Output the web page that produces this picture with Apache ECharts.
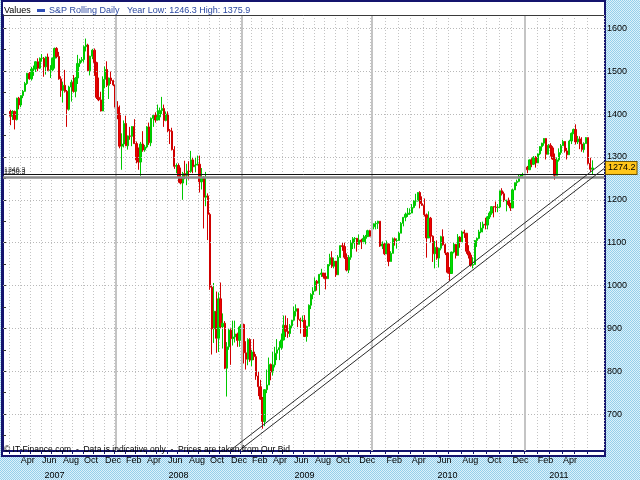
<!DOCTYPE html>
<html><head><meta charset="utf-8">
<script src="https://cdn.jsdelivr.net/npm/echarts@6/dist/echarts.min.js"></script>
<style>html,body{margin:0;padding:0;background:#bde2f2}#c{width:640px;height:480px}</style>
</head><body><div id="c"></div>
<script>
// ---- data ----
const monthNames = ['Jan','Feb','Mar','Apr','May','Jun','Jul','Aug','Sep','Oct','Nov','Dec'];
const firstMonth = [2007, 3];
const lastMonth = [2011, 6];
const lastLabelledMonth = '2011-04';
// number of candles (slots) per month, Mar 2007 .. Jun 2011
const slotCounts = [
  5,5,5,5,5,5,5,5,5,5,
  5,5,5,5,5,5,5,5,5,5,5,5,
  5,5,5,5,5,5,5,5,5,6,5,6,
  7,6,6,6,6,6,6,6,6,6,6,6,
  6,6,6,6,6,3
];
const leadPad = 3, tailPad = 5;
// [open, close, low, high]
const ohlc2007 = [
  [1406,1395,1374,1410],[1395,1406,1386,1409],[1406,1387,1364,1408],[1387,1437,1385,1438],[1437,1421,1411,1440],
  [1421,1443,1416,1444],[1443,1453,1437,1456],[1453,1471,1452,1475],[1471,1495,1468,1496],[1495,1482,1480,1498],
  [1482,1505,1478,1510],[1505,1505,1489,1513],[1505,1522,1498,1523],[1522,1507,1500,1530],[1507,1530,1505,1532],
  [1530,1530,1522,1540],[1530,1510,1487,1533],[1510,1533,1492,1534],[1533,1502,1500,1541],[1502,1503,1484,1514],
  [1503,1530,1500,1532],[1530,1553,1506,1555],[1553,1534,1530,1556],[1534,1482,1480,1545],[1482,1455,1440,1488],
  [1455,1467,1427,1475],[1467,1453,1450,1503],[1453,1411,1370,1456],[1411,1463,1408,1466],[1463,1474,1429,1480],
  [1474,1453,1450,1491],[1453,1484,1439,1486],[1484,1518,1470,1538],[1518,1525,1510,1529],[1525,1527,1520,1533],
  [1527,1557,1520,1560],[1557,1561,1546,1576],[1561,1501,1500,1564],[1501,1535,1490,1536],[1535,1549,1528,1552],
  [1549,1520,1489,1553],[1520,1439,1435,1522],[1439,1433,1430,1485],[1433,1407,1406,1452],[1407,1481,1407,1488],
  [1481,1504,1460,1511],[1504,1467,1463,1523],[1467,1484,1435,1485],[1484,1478,1470,1499],[1478,1468,1465,1480]
];
const ohlc2008 = [
  [1468,1416,1405,1471],[1416,1401,1388,1430],[1401,1325,1320,1420],[1325,1330,1270,1355],[1330,1378,1322,1385],
  [1378,1326,1325,1396],[1326,1349,1317,1350],[1349,1348,1340,1370],[1348,1371,1325,1372],[1371,1331,1330,1388],
  [1331,1293,1285,1336],[1293,1288,1270,1322],[1288,1330,1256,1335],[1330,1316,1312,1360],[1316,1323,1312,1328],
  [1323,1370,1320,1372],[1370,1333,1328,1380],[1333,1390,1325,1392],[1390,1397,1370,1399],[1397,1386,1380,1404],
  [1386,1393,1385,1422],[1393,1408,1385,1415],[1408,1413,1400,1440],[1413,1385,1370,1422],[1385,1400,1383,1406],
  [1400,1361,1358,1406],[1361,1360,1330,1365],[1360,1317,1315,1368],[1317,1278,1272,1325],[1278,1280,1262,1285],
  [1280,1252,1240,1285],[1252,1239,1236,1275],[1239,1261,1200,1265],[1261,1257,1248,1291],[1257,1267,1234,1284],
  [1267,1266,1247,1290],[1266,1293,1263,1314],[1293,1277,1262,1300],[1277,1281,1264,1300],[1281,1283,1281,1303],
  [1283,1242,1217,1303],[1242,1252,1224,1274],[1252,1206,1133,1255],[1206,1209,1185,1265],[1209,1166,1106,1215],
  [1166,996,990,1170],[996,899,839,1000],[899,940,866,1006],[940,877,843,986],[877,969,845,984],
  [969,904,900,1007],[904,912,853,935],[912,807,805,917],[807,857,741,868],[857,896,850,899],
  [896,876,815,900],[876,880,860,918],[880,887,867,918],[887,872,857,890],[872,903,857,906]
];
const ohlc2009 = [
  [903,909,900,943],[909,843,818,911],[843,828,804,870],[828,874,814,877],[874,826,822,877],
  [826,845,812,850],[845,834,826,875],[834,789,780,840],[789,764,742,800],[764,735,734,780],
  [735,683,666,740],[683,757,672,758],[757,768,749,804],[768,816,768,832],[816,798,779,818],
  [798,815,790,845],[815,842,809,857],[842,850,826,875],[850,855,826,870],[855,873,850,888],
  [873,907,872,930],[907,893,880,930],[893,888,878,924],[888,906,880,910],[906,919,900,920],
  [919,940,918,951],[940,946,928,956],[946,921,903,946],[921,918,888,925],[918,919,915,930],
  [919,881,880,931],[881,905,869,906],[905,954,905,956],[954,979,945,982],[979,987,968,996],
  [987,1010,987,1019],[1010,1005,988,1013],[1005,1026,978,1027],[1026,1029,1020,1039],[1029,1021,1016,1029],
  [1021,1016,991,1030],[1016,1049,1016,1050],[1049,1065,1045,1074],[1065,1045,1041,1080],[1045,1057,1040,1065],
  [1057,1025,1020,1057],[1025,1066,1025,1071],[1066,1093,1064,1094],[1093,1091,1081,1101],[1091,1066,1062,1100],[1066,1036,1033,1075],
  [1036,1066,1029,1071],[1066,1099,1060,1106],[1099,1109,1085,1113],[1109,1110,1086,1113],[1110,1096,1079,1111],
  [1096,1106,1096,1119],[1106,1102,1085,1109],[1102,1110,1098,1118],[1110,1114,1096,1118],[1114,1128,1114,1130],[1128,1115,1114,1130]
];
const ohlc2010 = [
  [1115,1137,1115,1139],[1137,1144,1131,1145],[1144,1145,1131,1150],[1145,1150,1132,1151],[1150,1092,1090,1150],[1092,1097,1085,1103],[1097,1074,1071,1100],
  [1074,1097,1074,1105],[1097,1056,1045,1098],[1056,1075,1056,1080],[1075,1109,1075,1112],[1109,1105,1093,1112],[1105,1105,1086,1110],
  [1105,1122,1105,1125],[1122,1145,1122,1148],[1145,1159,1138,1160],[1159,1166,1150,1170],[1166,1167,1160,1181],[1167,1169,1165,1180],
  [1169,1182,1169,1190],[1182,1197,1180,1199],[1197,1197,1186,1214],[1197,1217,1196,1218],[1217,1191,1180,1220],[1191,1187,1186,1208],
  [1187,1165,1161,1203],[1165,1111,1065,1168],[1111,1157,1111,1173],[1157,1115,1100,1160],[1115,1074,1055,1117],[1074,1089,1040,1104],
  [1089,1064,1060,1105],[1064,1087,1042,1088],[1087,1114,1082,1116],[1114,1095,1093,1131],[1095,1076,1071,1098],[1076,1031,1028,1078],
  [1031,1028,1011,1043],[1028,1078,1028,1079],[1078,1096,1075,1100],[1096,1070,1063,1097],[1070,1113,1070,1120],[1113,1102,1088,1115],
  [1102,1125,1102,1128],[1125,1122,1111,1130],[1122,1080,1074,1122],[1080,1071,1063,1094],[1071,1047,1044,1077],[1047,1049,1040,1066],
  [1049,1105,1049,1106],[1105,1110,1090,1112],[1110,1125,1108,1130],[1125,1134,1122,1148],[1134,1143,1124,1149],[1143,1141,1131,1158],
  [1141,1160,1131,1162],[1160,1169,1155,1173],[1169,1184,1165,1184],[1184,1183,1159,1185],[1183,1182,1171,1196],[1182,1183,1171,1190],
  [1183,1221,1180,1221],[1221,1214,1210,1227],[1214,1198,1195,1219],[1198,1199,1173,1200],[1199,1189,1185,1205],[1189,1181,1174,1193],
  [1181,1223,1181,1226],[1223,1240,1223,1240],[1240,1243,1232,1247],[1243,1255,1241,1259],[1255,1258,1252,1260],[1258,1258,1254,1263]
];
const ohlc2011 = [
  [1258,1276,1257,1277],[1276,1270,1262,1279],[1270,1293,1270,1294],[1293,1283,1276,1297],[1283,1299,1281,1302],[1299,1286,1275,1302],
  [1286,1307,1286,1308],[1307,1324,1304,1325],[1324,1332,1314,1333],[1332,1343,1326,1344],[1343,1306,1294,1344],[1306,1327,1306,1330],
  [1327,1321,1301,1332],[1321,1295,1293,1325],[1295,1257,1247,1308],[1257,1293,1257,1299],[1293,1310,1289,1320],[1310,1326,1305,1330],
  [1326,1336,1326,1340],[1336,1314,1310,1337],[1314,1305,1294,1321],[1305,1337,1305,1340],[1337,1355,1330,1357],[1355,1364,1353,1366],
  [1364,1335,1329,1376],[1335,1342,1330,1349],[1342,1330,1318,1348],[1330,1317,1312,1346],[1317,1331,1310,1334],[1331,1345,1331,1346],
  [1345,1285,1282,1345],[1285,1271,1265,1298],[1271,1274.2,1258,1292]
];
const lastPrice = 1274.2;
const supportUpper = 1258.5, supportLower = 1252.5;
const yLabelValues = [700,800,900,1000,1100,1200,1300,1400,1500,1600];
const yTickValues = [650,700,750,800,850,900,950,1000,1050,1100,1150,1200,1250,1300,1350,1400,1450,1500,1550,1600];
const yMin = 614, yMax = 1631;
// trend lines: [slot position, price]
const trendUpper = [[107.8, 614], [286, 1289]];
const trendLower = [[112.1, 614], [286, 1272.7]];
const yearLabelSlots = [24, 83, 143, 211, 264];
const headerTitle = 'S&P Rolling Daily';
const headerStats = 'Year Low: 1246.3 High: 1375.9';
const footerText = '\u00A9 IT-Finance.com  -  Data is indicative only  -  Prices are taken from Our Bid';

// ---- build ----
const categories = [];
for (let i = 0; i < leadPad; i++) categories.push('pad-' + i);
{
  let y = firstMonth[0], m = firstMonth[1], k = 0;
  while (y < lastMonth[0] || (y === lastMonth[0] && m <= lastMonth[1])) {
    const key = y + '-' + String(m).padStart(2, '0');
    for (let s = 0; s < slotCounts[k]; s++) categories.push(key + '-' + s);
    k++; m++; if (m > 12) { m = 1; y++; }
  }
}
for (let i = 0; i < tailPad; i++) categories.push('end-' + i);
const ohlcAll = [].concat(ohlc2007, ohlc2008, ohlc2009, ohlc2010, ohlc2011);
const candleData = [];
for (let i = 0; i < leadPad; i++) candleData.push('-');
ohlcAll.forEach(r => candleData.push(r));
for (let i = 0; i < tailPad; i++) candleData.push('-');
const N = categories.length;

const isMonthStart = v => { const p = String(v).split('-'); return p.length === 3 && p[2] === '0'; };
const monthOf = v => +String(v).split('-')[1];
const monthKeyOf = v => String(v).slice(0, 7);
const yearStarts = categories.filter(v => isMonthStart(v) && monthOf(v) === 1);

const FONT = 'Liberation Sans, Arial, sans-serif';

// dither pattern for the outer background
const pc = document.createElement('canvas'); pc.width = 2; pc.height = 2;
const pctx = pc.getContext('2d');
pctx.fillStyle = '#dcf1fa'; pctx.fillRect(0,0,2,2);
pctx.fillStyle = '#94cfeb'; pctx.fillRect(0,0,1,1); pctx.fillRect(1,1,1,1);

const chart = echarts.init(document.getElementById('c'), null, {renderer: 'canvas'});
const markData = [];
yLabelValues.forEach(v => markData.push({yAxis: v, lineStyle: {color: '#b8b8b8', type: [1, 2], width: 1}}));
yearStarts.forEach(v => markData.push({xAxis: v, lineStyle: {color: '#c4c4c4', type: 'solid', width: 2}}));
markData.push({yAxis: supportLower, lineStyle: {color: '#8a8a8a', type: 'solid', width: 2.5}});
markData.push({yAxis: supportUpper, lineStyle: {color: '#111', type: 'solid', width: 1}});
markData.push({yAxis: lastPrice, lineStyle: {color: 'rgba(0,0,0,0)', width: 0},
  label: {show: true, position: 'end', distance: 2, formatter: String(lastPrice),
    backgroundColor: '#ffc61a', borderColor: '#6b5200', borderWidth: 1, padding: [2, 1, 1, 2],
    color: '#000', fontSize: 9, fontFamily: FONT}});

chart.setOption({
  animation: false,
  backgroundColor: '#bde2f2',
  grid: {left: 3, right: 36, top: 15, bottom: 25, containLabel: false},
  graphic: [
    {type: 'rect', z: -100, silent: true, shape: {x: 0, y: 0, width: 640, height: 480},
      style: {fill: {image: pc, repeat: 'repeat'}}},
    {type: 'rect', z: -50, silent: true, shape: {x: 2, y: 1, width: 603, height: 455},
      style: {fill: '#ffffff', stroke: '#14146e', lineWidth: 2}},
    {type: 'line', z: 100, silent: true, shape: {x1: 3, y1: 15.5, x2: 604, y2: 15.5},
      style: {stroke: '#3a3a3a', lineWidth: 1}},
    {type: 'text', z: 100, silent: true, x: 4, y: 11,
      style: {text: 'Values', fill: '#000', font: '9px ' + FONT, verticalAlign: 'middle'}},
    {type: 'rect', z: 100, silent: true, shape: {x: 37, y: 9, width: 8, height: 3},
      style: {fill: '#2f4fb8'}},
    {type: 'text', z: 100, silent: true, x: 49, y: 11,
      style: {text: headerTitle, fill: '#2a48a0', font: '9px ' + FONT, verticalAlign: 'middle'}},
    {type: 'text', z: 100, silent: true, x: 127, y: 11,
      style: {text: headerStats, fill: '#2a48a0', font: '9px ' + FONT, verticalAlign: 'middle'}},
    {type: 'text', z: 100, silent: true, x: 4, y: 450,
      style: {text: footerText, fill: '#000', font: '8.5px ' + FONT, verticalAlign: 'middle'}},
    {type: 'text', z: 100, silent: true, x: 4, y: 170,
      style: {text: '1246.3', fill: '#444', font: '7px ' + FONT, verticalAlign: 'middle'}},
    {type: 'text', z: 100, silent: true, x: 4, y: 172,
      style: {text: '1250.3', fill: '#111', font: '7px ' + FONT, verticalAlign: 'middle'}}
  ],
  xAxis: [
    {type: 'category', data: categories, boundaryGap: true, position: 'bottom',
      axisLine: {show: true, lineStyle: {color: '#14146e', width: 2}},
      axisTick: {show: true, length: 3, interval: (i, v) => isMonthStart(v), lineStyle: {color: '#14146e'}},
      axisLabel: {show: true,
        interval: (i, v) => isMonthStart(v) && monthOf(v) % 2 === 0 && monthKeyOf(v) <= lastLabelledMonth,
        formatter: v => monthNames[monthOf(v) - 1], align: 'left', margin: 5,
        color: '#000', fontSize: 9, fontFamily: FONT},
      splitLine: {show: true, interval: (i, v) => isMonthStart(v),
        lineStyle: {color: '#c4c4c4', type: [1, 2], width: 1}}},
    {type: 'value', min: 0, max: N, show: false, position: 'top'},
    {type: 'category', data: categories, boundaryGap: true, position: 'bottom', offset: 12,
      axisLine: {show: false}, axisTick: {show: false}, splitLine: {show: false},
      axisLabel: {show: true, interval: (i) => yearLabelSlots.indexOf(i) >= 0,
        formatter: v => String(v).slice(0, 4), color: '#000', fontSize: 9, fontFamily: FONT}}
  ],
  yAxis: [{type: 'value', position: 'right', min: yMin, max: yMax, scale: true,
    axisLine: {show: true, lineStyle: {color: '#14146e', width: 2}},
    axisTick: {show: true, length: 3, customValues: yTickValues, lineStyle: {color: '#333'}},
    axisLabel: {show: true, customValues: yLabelValues, formatter: v => String(v), margin: 3,
      color: '#000', fontSize: 9, fontFamily: FONT},
    splitLine: {show: false}}],
  series: [
    {type: 'candlestick', xAxisIndex: 0, yAxisIndex: 0, data: candleData, barWidth: 1.8,
      itemStyle: {color: '#00e000', color0: '#f00000', borderColor: '#00c800', borderColor0: '#d00000', borderWidth: 1},
      markLine: {silent: true, symbol: ['none', 'none'], animation: false, label: {show: false}, data: markData}},
    {type: 'line', xAxisIndex: 1, yAxisIndex: 0, data: trendUpper, symbol: 'none', silent: true, z: 5,
      lineStyle: {color: '#2a2a2a', width: 1}},
    {type: 'line', xAxisIndex: 1, yAxisIndex: 0, data: trendLower, symbol: 'none', silent: true, z: 5,
      lineStyle: {color: '#2a2a2a', width: 1}}
  ]
});
</script></body></html>
